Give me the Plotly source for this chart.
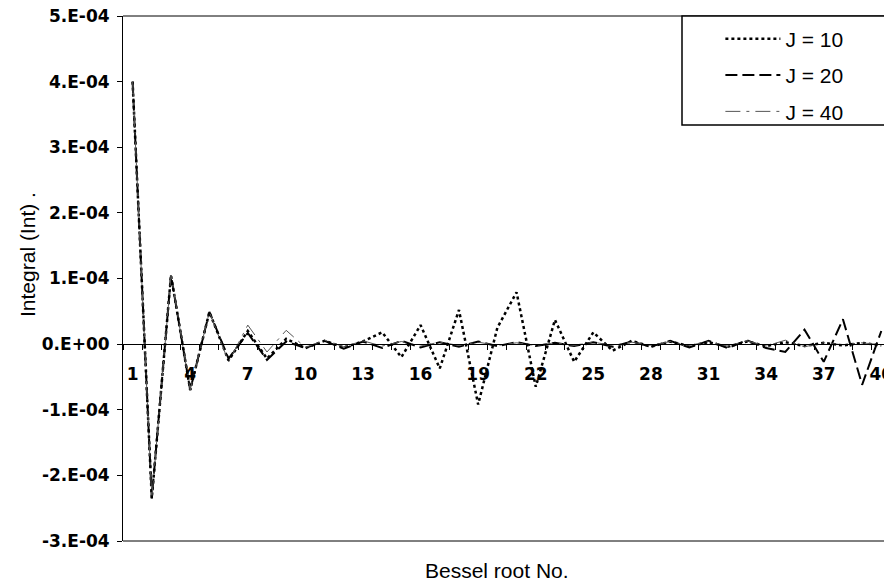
import plotly.graph_objects as go

# Bessel root numbers (categories)
roots = list(range(1, 41))

# Integral values, in units of 1e-4
j10 = [4.00, -2.35, 1.05, -0.70, 0.49, -0.25, 0.20, -0.22, 0.08, -0.06,
       0.05, -0.05, 0.04, 0.18, -0.20, 0.29, -0.37, 0.52, -0.92, 0.25,
       0.79, -0.65, 0.37, -0.27, 0.18, -0.10, 0.05, -0.04, 0.04, -0.03,
       0.03, -0.04, 0.04, -0.03, 0.03, -0.03, 0.02, -0.02, 0.02, -0.02]
j20 = [4.00, -2.35, 1.05, -0.70, 0.49, -0.22, 0.17, -0.24, 0.04, -0.06,
       0.05, -0.07, 0.04, -0.06, 0.05, -0.05, 0.03, -0.04, 0.04, -0.03,
       0.03, -0.03, 0.02, -0.03, 0.03, -0.04, 0.04, -0.04, 0.05, -0.05,
       0.05, -0.06, 0.06, -0.06, -0.12, 0.22, -0.27, 0.38, -0.62, 0.20]
j40 = [4.00, -2.35, 1.05, -0.70, 0.49, -0.27, 0.29, -0.12, 0.21, -0.05,
       0.06, -0.04, 0.05, -0.03, 0.04, -0.03, 0.03, -0.02, 0.03, -0.02,
       0.02, -0.02, 0.02, -0.02, 0.03, -0.02, 0.03, -0.02, 0.04, -0.02,
       0.04, -0.03, 0.05, -0.03, 0.06, -0.04, 0.02, -0.01, 0.02, -0.01]

scale = 1e-4
x_tick_vals = list(range(1, 41, 3))
x_tick_text = [str(v) for v in x_tick_vals]
y_tick_vals = [5e-4, 4e-4, 3e-4, 2e-4, 1e-4, 0, -1e-4, -2e-4, -3e-4]
y_tick_text = ["5.E-04", "4.E-04", "3.E-04", "2.E-04", "1.E-04", "0.E+00",
               "-1.E-04", "-2.E-04", "-3.E-04"]

fig = go.Figure()
fig.add_trace(go.Scatter(x=roots, y=[v * scale for v in j10], mode="lines",
                         name="J = 10", legendgroup="a",
                         line=dict(color="black", width=2.5, dash="dot")))
fig.add_trace(go.Scatter(x=roots, y=[v * scale for v in j20], mode="lines",
                         name="J = 20", legendgroup="b",
                         line=dict(color="black", width=2, dash="12px,5px")))
fig.add_trace(go.Scatter(x=roots, y=[v * scale for v in j40], mode="lines",
                         name="J = 40", legendgroup="c",
                         line=dict(color="#555555", width=1, dash="longdashdot")))

tickfont = dict(family="DejaVu Sans", size=17, color="black", weight="bold")

fig.update_layout(
    width=884, height=588,
    margin=dict(l=123, r=0, t=16, b=47, autoexpand=False),
    paper_bgcolor="white", plot_bgcolor="white",
    showlegend=True,
    legend=dict(x=0.785, y=0.995, xanchor="left", yanchor="top",
                bgcolor="rgba(0,0,0,0)", borderwidth=0,
                font=dict(family="Liberation Sans, Arial", size=21, color="black"),
                tracegroupgap=6, itemwidth=55),
    xaxis=dict(range=[0.5, 40.14], anchor="free", position=0.375,
               showline=True, linecolor="black", linewidth=1,
               showgrid=False, zeroline=False,
               tickmode="array", tickvals=x_tick_vals, ticktext=x_tick_text,
               ticks="", ticklabelstandoff=14, tickfont=tickfont,
               ticklabeloverflow="allow", automargin=False,
               minor=dict(ticks="outside", tick0=0.5, dtick=1, ticklen=5,
                          tickcolor="black", showgrid=False)),
    yaxis=dict(range=[-3e-4, 5e-4], showline=True, linecolor="black",
               linewidth=1, showgrid=False, zeroline=False,
               tickmode="array", tickvals=y_tick_vals, ticktext=y_tick_text,
               ticks="outside", ticklen=5, tickcolor="black",
               ticklabelstandoff=4, tickfont=tickfont, automargin=False),
    shapes=[
        dict(type="line", xref="paper", yref="paper", x0=0, x1=1, y0=1, y1=1,
             line=dict(color="black", width=1)),
        dict(type="line", xref="paper", yref="paper", x0=0, x1=1, y0=0, y1=0,
             line=dict(color="black", width=1)),
        dict(type="rect", xref="paper", yref="paper",
             x0=(682 - 123) / 761, x1=1.02, y0=(541 - 125) / 525, y1=1,
             line=dict(color="black", width=1.5), fillcolor="white",
             layer="above"),
    ],
    annotations=[
        dict(text="Bessel root No.", xref="paper", yref="paper",
             x=(497 - 123) / 761, y=(541 - 570) / 525, showarrow=False,
             xanchor="center", yanchor="middle",
             font=dict(family="Liberation Sans, Arial", size=21, color="black")),
        dict(text="Integral (Int) .", xref="paper", yref="paper",
             x=(27 - 123) / 761, y=(541 - 255) / 525, showarrow=False,
             textangle=-90, xanchor="center", yanchor="middle",
             font=dict(family="Liberation Sans, Arial", size=21, color="black")),
    ],
)

fig.write_html("out.html")
